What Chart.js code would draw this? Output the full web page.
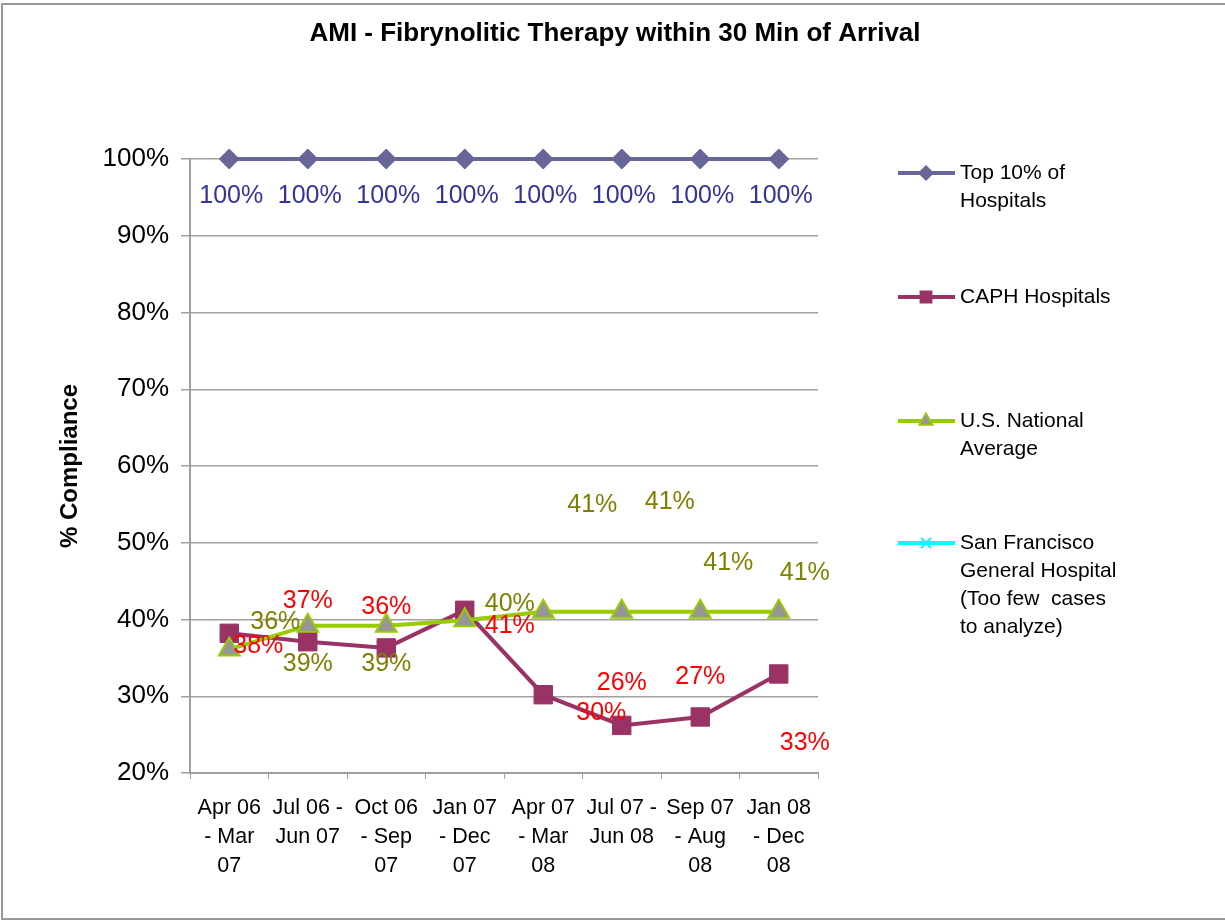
<!DOCTYPE html>
<html>
<head>
<meta charset="utf-8">
<title>AMI - Fibrynolitic Therapy within 30 Min of Arrival</title>
<script src="https://cdn.jsdelivr.net/npm/chart.js@4/dist/chart.umd.min.js"></script>
<style>
  html, body { margin: 0; padding: 0; background: #fff; }
  #wrap { width: 1225px; height: 921px; }
</style>
</head>
<body>
<div id="wrap"><canvas id="chart" width="1225" height="921"></canvas></div>
<script>
// periods (x axis categories, one line per array entry)
const periods = [
  ['Apr 06', '- Mar', '07'],
  ['Jul 06 -', 'Jun 07'],
  ['Oct 06', '- Sep', '07'],
  ['Jan 07', '- Dec', '07'],
  ['Apr 07', '- Mar', '08'],
  ['Jul 07 -', 'Jun 08'],
  ['Sep 07', '- Aug', '08'],
  ['Jan 08', '- Dec', '08']
];

// % compliance per series
const top10 = [100, 100, 100, 100, 100, 100, 100, 100];
const caph = [38.2, 37.1, 36.3, 41.2, 30.2, 26.2, 27.3, 32.9];
const usNational = [36.1, 39.2, 39.2, 39.9, 41.0, 41.0, 41.0, 41.0];
const sfGeneral = [null, null, null, null, null, null, null, null];

// labels shown next to the points (rounded, as printed)
const top10Labels = ['100%', '100%', '100%', '100%', '100%', '100%', '100%', '100%'];
const caphLabels = ['38%', '37%', '36%', '41%', '30%', '26%', '27%', '33%'];
const usLabels = ['36%', '39%', '39%', '40%', '41%', '41%', '41%', '41%'];

const yTicks = [20, 30, 40, 50, 60, 70, 80, 90, 100];

// where each data label sits relative to its point (px)
const labelOffsets = {
  0: [[2, 37], [2, 37], [2, 37], [2, 37], [2, 37], [2, 37], [2, 37], [2, 37]],
  1: [[29, 13], [0, -41], [0, -41], [45, 16], [58, 18], [0, -42], [0, -40], [26, 69]],
  2: [[46, -27], [0, 38], [0, 38], [45, -16], [49, -107], [48, -110], [28, -49], [26, -39]]
};
const labelColors = { 0: '#333399', 1: '#FF0000', 2: '#808000' };
const labelTexts = { 0: top10Labels, 1: caphLabels, 2: usLabels };

const FONT = "'Liberation Sans', Arial, sans-serif";

const legendItems = [
  { lines: ['Top 10% of', 'Hospitals'], y: 173, color: '#666699', style: 'rectRot', r: 7, fill: '#666699', border: '#666699' },
  { lines: ['CAPH Hospitals'], y: 297, color: '#993366', style: 'rect', r: 8, fill: '#993366', border: '#993366' },
  { lines: ['U.S. National', 'Average'], y: 421, color: '#99CC00', style: 'triangle', r: 8, fill: '#969696', border: '#99CC00' },
  { lines: ['San Francisco', 'General Hospital', '(Too few  cases', 'to analyze)'], y: 543, color: '#00FFFF', style: 'crossRot', r: 7, fill: '#00FFFF', border: '#00FFFF' }
];

const extras = {
  id: 'extras',
  afterDatasetsDraw(chart) {
    const ctx = chart.ctx;
    ctx.save();
    ctx.textAlign = 'center';
    ctx.textBaseline = 'middle';
    ctx.font = '25px ' + FONT;
    [0, 1, 2].forEach(di => {
      const meta = chart.getDatasetMeta(di);
      meta.data.forEach((pt, i) => {
        const off = labelOffsets[di][i];
        ctx.fillStyle = labelColors[di];
        ctx.fillText(labelTexts[di][i], pt.x + off[0], pt.y + off[1]);
      });
    });
    ctx.restore();
  },
  afterDraw(chart) {
    const ctx = chart.ctx;
    ctx.save();
    // title
    ctx.fillStyle = '#000';
    ctx.font = 'bold 26px ' + FONT;
    ctx.textAlign = 'center';
    ctx.textBaseline = 'middle';
    ctx.fillText('AMI - Fibrynolitic Therapy within 30 Min of Arrival', 615, 34);

    // legend
    legendItems.forEach(item => {
      ctx.strokeStyle = item.color;
      ctx.lineWidth = 4;
      ctx.beginPath();
      ctx.moveTo(898, item.y);
      ctx.lineTo(955, item.y);
      ctx.stroke();
      ctx.fillStyle = item.fill;
      ctx.strokeStyle = item.border;
      ctx.lineWidth = item.style === 'crossRot' ? 2 : 1.5;
      Chart.helpers.drawPoint(ctx, { pointStyle: item.style, radius: item.r, rotation: 0, borderWidth: ctx.lineWidth }, 926, item.y);
      ctx.fillStyle = '#000';
      ctx.font = '21px ' + FONT;
      ctx.textAlign = 'left';
      item.lines.forEach((t, k) => ctx.fillText(t, 960, item.y + k * 28));
    });

    // outer border
    ctx.strokeStyle = '#999999';
    ctx.lineWidth = 2;
    ctx.strokeRect(2, 4, 1240, 915);
    ctx.restore();
  }
};

new Chart(document.getElementById('chart'), {
  type: 'line',
  data: {
    labels: periods,
    datasets: [
      {
        label: 'Top 10% of Hospitals',
        data: top10,
        borderColor: '#666699',
        backgroundColor: '#666699',
        borderWidth: 4,
        pointStyle: 'rectRot',
        pointRadius: 10,
        pointBorderWidth: 1,
        tension: 0,
        clip: false,
        order: 0
      },
      {
        label: 'CAPH Hospitals',
        data: caph,
        borderColor: '#993366',
        backgroundColor: '#993366',
        borderWidth: 4,
        pointStyle: 'rect',
        pointRadius: 13,
        pointBorderWidth: 1,
        tension: 0,
        clip: false,
        order: 2
      },
      {
        label: 'U.S. National Average',
        data: usNational,
        borderColor: '#99CC00',
        backgroundColor: '#969696',
        pointBorderColor: '#99CC00',
        borderWidth: 4,
        pointStyle: 'triangle',
        pointRadius: 12,
        pointBorderWidth: 2,
        tension: 0,
        clip: false,
        order: 1
      },
      {
        label: 'San Francisco General Hospital (Too few cases to analyze)',
        data: sfGeneral,
        borderColor: '#00FFFF',
        backgroundColor: '#00FFFF',
        borderWidth: 4,
        pointStyle: 'crossRot',
        pointRadius: 8,
        order: 3
      }
    ]
  },
  options: {
    responsive: false,
    animation: false,
    layout: { padding: { top: 159, right: 407, bottom: 0, left: 56 } },
    plugins: {
      legend: { display: false },
      title: { display: false },
      tooltip: { enabled: false }
    },
    scales: {
      x: {
        offset: true,
        afterFit: s => { s.height = 148; },
        grid: {
          offset: true,
          drawOnChartArea: false,
          color: '#a0a0a0',
          tickLength: 6
        },
        border: { color: '#a0a0a0', width: 2 },
        ticks: {
          color: '#000',
          maxRotation: 0,
          autoSkip: false,
          padding: 14,
          font: { family: FONT, size: 21.5, lineHeight: 1.36 }
        }
      },
      y: {
        min: 20,
        max: 100,
        afterFit: s => { s.width = 134; },
        afterBuildTicks: s => { s.ticks = yTicks.map(v => ({ value: v })); },
        grid: {
          color: '#a0a0a0',
          lineWidth: 1.5,
          tickLength: 9
        },
        border: { color: '#a0a0a0', width: 2 },
        ticks: {
          color: '#000',
          padding: 12,
          font: { family: FONT, size: 26 },
          callback: v => v + '%'
        },
        title: {
          display: true,
          text: '% Compliance',
          color: '#000',
          padding: 0,
          font: { family: FONT, size: 24, weight: 'bold' }
        }
      }
    }
  },
  plugins: [extras]
});
</script>
</body>
</html>
